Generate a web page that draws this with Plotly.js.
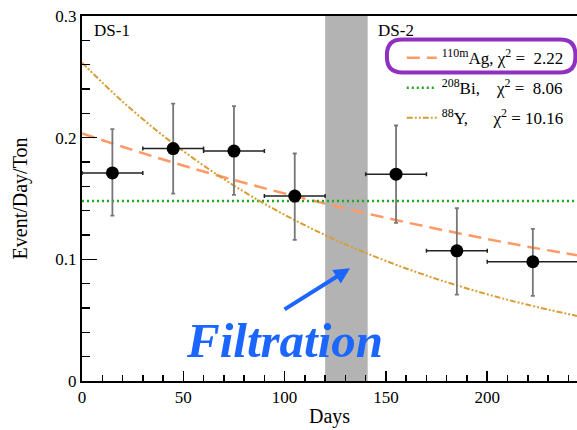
<!DOCTYPE html>
<html>
<head>
<meta charset="utf-8">
<script src="https://cdn.plot.ly/plotly-3.0.1.min.js"></script>
<style>
  html, body { margin: 0; padding: 0; background: #fff; }
  #chart { width: 577px; height: 430px; }
</style>
</head>
<body>
<div id="chart"></div>
<script>
// Measured rate per period (DS-1 before filtration, DS-2 after)
const days      = [15, 45, 75, 105, 155, 185, 222.5];
const daysErr   = [15, 15, 15, 15, 15, 15, 22.5];
const rate      = [0.171, 0.191, 0.189, 0.152, 0.170, 0.107, 0.098];
const rateErrUp = [0.036, 0.037, 0.037, 0.035, 0.040, 0.035, 0.027];
const rateErrDn = [0.035, 0.037, 0.036, 0.036, 0.040, 0.036, 0.028];

// Fit curves for each decay hypothesis
const fitDays = [0, 20, 40, 60, 80, 100, 120, 140, 160, 180, 200, 220, 244.3];
const fitAg   = [0.2035, 0.1925, 0.1821, 0.1722, 0.1629, 0.1541, 0.1458, 0.1379, 0.1304, 0.1234, 0.1167, 0.1104, 0.1033];
const fitBi   = [0.148, 0.148, 0.148, 0.148, 0.148, 0.148, 0.148, 0.148, 0.148, 0.148, 0.148, 0.148, 0.148];
const fitY    = [0.2616, 0.2297, 0.2017, 0.1771, 0.1555, 0.1366, 0.1199, 0.1053, 0.0925, 0.0812, 0.0713, 0.0626, 0.0535];

// Legend labels
const nb = '\u00A0';
const labelAg = '<sup>110m</sup>Ag,' + nb + 'χ<sup>2</sup>' + nb + '=' + nb + nb + '2.22';
const labelBi = '<sup>208</sup>Bi,' + nb.repeat(4) + 'χ<sup>2</sup>' + nb + '=' + nb + nb + '8.06';
const labelY  = '<sup>88</sup>Y,' + nb.repeat(6) + 'χ<sup>2</sup>' + nb + '=' + nb + '10.16';

// Filtration period
const filtStart = 120, filtEnd = 141;

const serif = 'Liberation Serif, Times New Roman, serif';
const blue = '#1a66ff';

const traces = [
  {
    x: fitDays, y: fitAg, mode: 'lines', name: labelAg, legendgroup: 'ag',
    line: {color: '#ff9966', width: 2.5, dash: '13px,7px', shape: 'spline'},
    hoverinfo: 'skip'
  },
  {
    x: fitDays, y: fitBi, mode: 'lines', name: labelBi, legendgroup: 'bi',
    line: {color: '#1ea81e', width: 2.5, dash: '2px,3px'},
    hoverinfo: 'skip'
  },
  {
    x: fitDays, y: fitY, mode: 'lines', name: labelY, legendgroup: 'y',
    line: {color: '#d69e34', width: 2, dash: '6px,2px,2px,2px,2px,2px', shape: 'spline'},
    hoverinfo: 'skip'
  },
  {
    x: days, y: rate, mode: 'markers', showlegend: false,
    marker: {color: '#000', size: 13},
    error_x: {type: 'data', array: daysErr, color: '#222', thickness: 1.5, width: 2},
    error_y: {type: 'data', symmetric: false, array: rateErrUp, arrayminus: rateErrDn,
              color: '#777', thickness: 1.8, width: 2}
  }
];

// Rounded outline around the first legend entry (data coordinates)
function pill(x0, x1, y0, y1, rx, ry) {
  return `M ${x0 + rx} ${y1} L ${x1 - rx} ${y1} Q ${x1} ${y1} ${x1} ${y1 - ry} ` +
         `L ${x1} ${y0 + ry} Q ${x1} ${y0} ${x1 - rx} ${y0} L ${x0 + rx} ${y0} ` +
         `Q ${x0} ${y0} ${x0} ${y0 + ry} L ${x0} ${y1 - ry} Q ${x0} ${y1} ${x0 + rx} ${y1} Z`;
}

const layout = {
  width: 577, height: 430,
  margin: {l: 82, r: 0, t: 16, b: 49},
  paper_bgcolor: '#fff', plot_bgcolor: '#fff',
  font: {family: serif, size: 17, color: '#000'},
  showlegend: true,
  legend: {
    x: 0.646, y: 0.934, xanchor: 'left', yanchor: 'top',
    bgcolor: 'rgba(0,0,0,0)', tracegroupgap: 5,
    font: {family: serif, size: 17, color: '#000'}
  },
  xaxis: {
    range: [0, 244.3], showgrid: false, zeroline: false,
    showline: true, linecolor: '#000', linewidth: 2, mirror: true,
    ticks: 'inside', ticklen: 10, tickwidth: 1.5, tickcolor: '#000',
    dtick: 50, tick0: 0,
    minor: {dtick: 10, ticks: 'inside', ticklen: 6, tickwidth: 1.5, tickcolor: '#000'},
    tickfont: {family: serif, size: 17},
    title: {text: 'Days', font: {family: serif, size: 20}, standoff: 3}
  },
  yaxis: {
    range: [0, 0.3], showgrid: false, zeroline: false,
    showline: true, linecolor: '#000', linewidth: 2,
    ticks: 'inside', ticklen: 15, tickwidth: 1.5, tickcolor: '#000',
    dtick: 0.1, tick0: 0,
    minor: {dtick: 0.02, ticks: 'inside', ticklen: 8, tickwidth: 1.5, tickcolor: '#000'},
    tickfont: {family: serif, size: 17},
    title: {text: 'Event/Day/Ton', font: {family: serif, size: 20}, standoff: 22}
  },
  shapes: [
    {type: 'rect', xref: 'x', yref: 'y', x0: filtStart, x1: filtEnd, y0: 0, y1: 0.3,
     fillcolor: '#b3b3b3', line: {width: 0}, layer: 'below'},
    {type: 'path', xref: 'x', yref: 'y', layer: 'above',
     path: pill(150.5, 243.5, 0.2535, 0.2806, 7.5, 0.0125),
     line: {color: '#9030c0', width: 4}}
  ],
  annotations: [
    {x: 0, y: 1, xref: 'paper', yref: 'paper', xanchor: 'left', yanchor: 'top',
     xshift: 10, yshift: -3, text: 'DS-1', showarrow: false,
     font: {family: serif, size: 17}},
    {x: filtEnd, y: 1, xref: 'x', yref: 'paper', xanchor: 'left', yanchor: 'top',
     xshift: 8, yshift: -3, text: 'DS-2', showarrow: false,
     font: {family: serif, size: 17}},
    {x: 99.7, y: 0.0337, xref: 'x', yref: 'y', text: '<b><i>Filtration</i></b>',
     showarrow: false, font: {family: serif, size: 49, color: blue}},
    {x: 132.3, y: 0.0926, xref: 'x', yref: 'y', text: '', showarrow: true,
     ax: -67, ay: 42, arrowhead: 2, arrowsize: 0.8, arrowwidth: 4, arrowcolor: blue}
  ]
};

Plotly.newPlot('chart', traces, layout, {displayModeBar: false, staticPlot: true});
</script>
</body>
</html>
